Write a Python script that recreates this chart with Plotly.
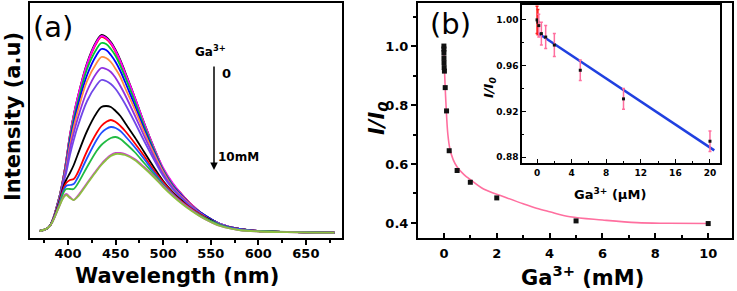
import plotly.graph_objects as go

# ---------------- Panel (a): emission spectra ----------------
wavelength = [370, 380, 390, 395, 398, 402, 406, 410, 420, 430, 435, 440, 445, 450, 455, 460,
              470, 480, 490, 500, 510, 520, 530, 540, 550, 560, 580, 600, 630, 660, 680]

spec_01 = [2, 6, 33, 55, 72, 98, 118, 135, 170, 192, 198, 196, 191, 183, 173, 161, 136, 110, 86, 64, 49, 38, 28, 20, 14, 9, 4, 2, 1, 0.5, 0.3]
spec_02 = [2, 6, 33, 55, 72, 97, 117, 134, 168, 190, 196, 194, 189, 181, 171, 159, 135, 109, 85, 64, 49, 38, 28, 20, 14, 9, 4, 2, 1, 0.5, 0.3]
spec_03 = [2, 6, 33, 55, 72, 98, 118, 135, 169, 191, 197, 195, 190, 182, 172, 160, 136, 110, 86, 65, 50, 38, 28, 20, 14, 9, 4, 2, 1, 0.5, 0.3]
spec_04 = [2, 6, 33, 54, 70, 95, 114, 130, 164, 184, 190, 189, 184, 177, 167, 156, 132, 107, 84, 63, 48, 37, 27, 20, 14, 9, 4, 2, 1, 0.5, 0.3]
spec_05 = [2, 6, 32, 53, 68, 92, 110, 126, 158, 178, 184, 183, 178, 171, 162, 151, 128, 104, 82, 62, 47, 37, 27, 20, 14, 9, 4, 2, 1, 0.5, 0.3]
spec_06 = [2, 6, 32, 52, 66, 88, 106, 121, 152, 170, 176, 175, 171, 164, 156, 145, 124, 101, 80, 61, 46, 36, 27, 19, 13, 9, 4, 2, 1, 0.5, 0.3]
spec_07 = [2, 6, 31, 51, 63, 84, 100, 114, 142, 160, 165, 164, 161, 155, 147, 138, 118, 97, 77, 59, 45, 35, 26, 19, 13, 9, 4, 2, 1, 0.5, 0.3]
spec_08 = [2, 6, 31, 50, 60, 78, 93, 106, 132, 148, 153, 152, 149, 144, 137, 129, 111, 92, 74, 57, 44, 34, 26, 19, 13, 9, 4, 2, 1, 0.5, 0.3]
spec_09 = [2, 6, 29, 46, 53, 60, 68, 78, 102, 120, 126, 127, 126, 122, 117, 110, 96, 81, 66, 52, 41, 32, 24, 18, 13, 8, 4, 2, 1, 0.5, 0.3]
spec_10 = [2, 6, 28, 44, 50, 53, 54, 60, 82, 100, 107, 111, 113, 111, 107, 102, 90, 77, 63, 51, 40, 31, 24, 18, 12, 8, 4, 2, 1, 0.5, 0.3]
spec_11 = [2, 6, 27, 42, 47, 48, 49, 55, 75, 93, 100, 104, 106, 105, 102, 97, 86, 74, 61, 49, 39, 30, 23, 17, 12, 8, 4, 2, 1, 0.5, 0.3]
spec_12 = [2, 6, 26, 40, 44, 44, 44, 49, 66, 82, 88, 92, 95, 96, 94, 90, 81, 70, 59, 48, 38, 30, 23, 17, 12, 8, 3, 2, 1, 0.5, 0.3]
spec_13 = [2, 6, 25, 36, 39, 36, 33, 37, 50, 63, 69, 74, 78, 80, 80, 79, 74, 66, 57, 47, 38, 30, 23, 16, 11, 7, 3, 1.5, 0.8, 0.4, 0.3]
spec_14 = [2, 6, 25, 35, 38, 35, 33, 36, 49, 62, 68, 73, 77, 79, 79, 78, 73, 65, 56, 46, 37, 29, 22, 16, 11, 7, 3, 1.5, 0.8, 0.4, 0.3]

spectra = [spec_01, spec_02, spec_03, spec_04, spec_05, spec_06, spec_07,
           spec_08, spec_09, spec_10, spec_11, spec_12, spec_13, spec_14]
spec_colors = ["#000000", "#ff0000", "#ff00ff", "#00c832", "#0000ff", "#ff8c40", "#9030e0",
               "#7048e8", "#000000", "#ff0000", "#2050ff", "#22bb44", "#cc44cc", "#8cc040"]

wl_ticks = [400, 450, 500, 550, 600, 650]

# ---------------- Panel (b): quenching ----------------
ga_mM = [0, 0.0005, 0.001, 0.002, 0.005, 0.01, 0.02, 0.05, 0.1, 0.2, 0.5, 1, 2, 5, 10]
ratio = [1.0, 0.99, 0.978, 0.96, 0.944, 0.927, 0.915, 0.859, 0.78, 0.645, 0.578, 0.538, 0.485, 0.407, 0.398]

fit_x = [0, 0.03, 0.08, 0.15, 0.23, 0.35, 0.5, 0.75, 1.0, 1.5, 2.24, 3.0, 3.5, 4.0, 4.77, 6.0, 7.3, 8.5, 10]
fit_y = [0.99, 0.9, 0.8, 0.70, 0.65, 0.615, 0.59, 0.565, 0.547, 0.515, 0.49, 0.465, 0.45, 0.438, 0.421, 0.41, 0.401, 0.399, 0.398]

# inset (µM)
ins_x = [0, 0.1, 0.2, 0.5, 1, 2, 5, 10, 20]
ins_y = [1.0, 0.998, 0.995, 0.988, 0.985, 0.978, 0.956, 0.931, 0.894]
ins_err = [0.012, 0.011, 0.01, 0.01, 0.01, 0.01, 0.009, 0.009, 0.009]
lin_x = [0, 20.5]
lin_y = [0.989, 0.886]

W, H = 737, 291
FONT = "DejaVu Sans"
PINK = "#ff6f9f"

def px(x):
    return x / W

def py(y):
    return 1 - y / H

fig = go.Figure()

for s, c in zip(spectra, spec_colors):
    fig.add_trace(go.Scatter(x=wavelength, y=s, mode="lines", line=dict(color=c, width=1.8, shape="spline"),
                             xaxis="x", yaxis="y", showlegend=False))

fig.add_trace(go.Scatter(x=fit_x, y=fit_y, mode="lines", line=dict(color=PINK, width=1.6, shape="spline"),
                         xaxis="x2", yaxis="y2", showlegend=False))
fig.add_trace(go.Scatter(x=ga_mM, y=ratio, mode="markers", marker=dict(symbol="square", size=5, color="#111111"),
                         xaxis="x2", yaxis="y2", showlegend=False))

# inset
fig.add_trace(go.Scatter(x=lin_x, y=lin_y, mode="lines", line=dict(color="#2040e0", width=2.5),
                         xaxis="x3", yaxis="y3", showlegend=False))
fig.add_trace(go.Scatter(x=ins_x[:2], y=ins_y[:2], mode="markers",
                         marker=dict(symbol="square", size=3, color="#111111"),
                         error_y=dict(type="data", array=ins_err[:2], color="#ff2020", thickness=1.5, width=1.5),
                         xaxis="x3", yaxis="y3", showlegend=False))
fig.add_trace(go.Scatter(x=ins_x[2:], y=ins_y[2:], mode="markers",
                         marker=dict(symbol="square", size=3, color="#111111"),
                         error_y=dict(type="data", array=ins_err[2:], color=PINK, thickness=1.5, width=1.5),
                         xaxis="x3", yaxis="y3", showlegend=False))

tickfont = dict(family=FONT, size=13, color="black", weight="bold")
inset_tickfont = dict(family=FONT, size=9, color="black", weight="bold")
axline = dict(showline=True, linecolor="black", linewidth=2, mirror=True, showgrid=False, zeroline=False)

fig.update_layout(
    width=W, height=H,
    margin=dict(l=0, r=0, t=0, b=0),
    paper_bgcolor="white", plot_bgcolor="white",
    showlegend=False,
    xaxis=dict(domain=[px(30), px(342)], range=[360, 688], tickvals=wl_ticks, ticks="outside", ticklen=5,
               tickwidth=1.5, tickcolor="black", tickfont=tickfont, ticklabelstandoff=-3,
               minor=dict(dtick=25, tick0=0, ticks="outside", ticklen=3, tickwidth=1.5, tickcolor="black"),
               anchor="y", **axline),
    yaxis=dict(domain=[py(238), py(3)], range=[-5, 230], showticklabels=False, ticks="", anchor="x", **axline),
    xaxis2=dict(domain=[px(418), px(732)], range=[-0.98, 10.9], tickvals=[0, 2, 4, 6, 8, 10], ticks="inside",
                ticklen=5, tickwidth=1.5, tickcolor="black", tickfont=tickfont, ticklabelstandoff=2,
                minor=dict(dtick=1, tick0=0, ticks="inside", ticklen=3, tickwidth=1.5, tickcolor="black"),
                anchor="y2", **axline),
    yaxis2=dict(domain=[py(238), py(3)], range=[0.349, 1.146], tickvals=[0.4, 0.6, 0.8, 1.0], tickformat=".1f",
                ticks="outside", ticklen=5, tickwidth=1.5, tickcolor="black", tickfont=tickfont,
                minor=dict(dtick=0.1, tick0=0, ticks="outside", ticklen=3, tickwidth=1.5, tickcolor="black"),
                anchor="x2", **axline),
    xaxis3=dict(domain=[px(522), px(720)], range=[-1.74, 21.16], tickvals=[0, 4, 8, 12, 16, 20], ticks="inside",
                ticklen=4, tickwidth=1.2, tickcolor="black", tickfont=inset_tickfont,
                minor=dict(dtick=2, tick0=0, ticks="inside", ticklen=2, tickwidth=1, tickcolor="black"),
                anchor="y3", showline=True, linecolor="black", linewidth=1.5, mirror=True, showgrid=False,
                zeroline=False),
    yaxis3=dict(domain=[py(163), py(5)], range=[0.875, 1.013], tickvals=[0.88, 0.92, 0.96, 1.00], tickformat=".2f",
                ticks="inside", ticklen=4, tickwidth=1.2, tickcolor="black", tickfont=inset_tickfont,
                minor=dict(dtick=0.02, tick0=0, ticks="inside", ticklen=2, tickwidth=1, tickcolor="black"),
                anchor="x3", showline=True, linecolor="black", linewidth=1.5, mirror=True, showgrid=False,
                zeroline=False),
)

def ann(text, x, y, size, bold=True, angle=0, xanchor="center", yanchor="middle"):
    fig.add_annotation(text=text, x=px(x), y=py(y), xref="paper", yref="paper", showarrow=False,
                       xanchor=xanchor, yanchor=yanchor, textangle=angle,
                       font=dict(family=FONT, size=size, color="black", weight="bold" if bold else "normal"))

ann("(a)", 53, 27, 29, bold=False)
ann("(b)", 450, 24, 29, bold=False)
ann("Wavelength (nm)", 177, 276, 21)
ann("Intensity (a.u)", 13, 117, 21, angle=-90)
ann("Ga<sup>3+</sup> (mM)", 582, 276, 21)
ann("<i>I/I<sub>0</sub></i>", 378, 118, 21, angle=-90)
ann("Ga<sup>3+</sup> (µM)", 610, 194, 13)
ann("<i>I/I<sub>0</sub></i>", 489, 88, 13, angle=-90)
ann("Ga<sup>3+</sup>", 211, 51, 12)
ann("0", 220, 73, 13, xanchor="left")
ann("10mM", 216, 157, 12, xanchor="left")

fig.add_annotation(x=px(214), y=py(170), xref="paper", yref="paper", ax=0, ay=-105, text="",
                   showarrow=True, arrowhead=2, arrowsize=1, arrowwidth=1.5, arrowcolor="black")

fig.write_html("out.html", config={"displayModeBar": False},
               post_script="document.body.style.margin='0';document.body.style.padding='0';")
